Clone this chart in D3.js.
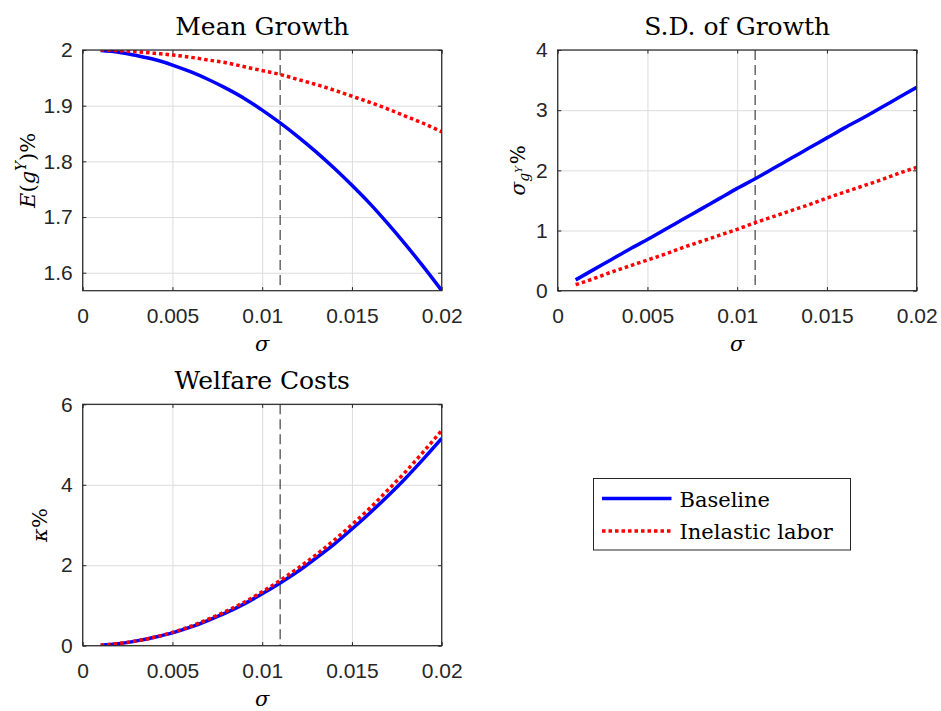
<!DOCTYPE html>
<html>
<head>
<meta charset="utf-8">
<script src="https://cdn.jsdelivr.net/npm/d3@7"></script>
<style>
  body { margin: 0; background: #fff; }
  svg { display: block; }
  .tick text { font-family: "Liberation Sans", Arial, sans-serif; font-size: 21px; fill: #262626; }
  .ttl { font-family: "DejaVu Serif", serif; font-size: 25px; fill: #000; }
  .lab { font-family: "DejaVu Serif", serif; font-size: 21px; fill: #000; }
</style>
</head>
<body>
<div id="vis"></div>
<script>
// values, sigma = 0.001 ... 0.020
const sigma = [0.001, 0.002, 0.003, 0.004, 0.005, 0.006, 0.007, 0.008, 0.009, 0.010,
               0.011, 0.012, 0.013, 0.014, 0.015, 0.016, 0.017, 0.018, 0.019, 0.020];
const meanBaseline  = [1.999, 1.996, 1.990, 1.983, 1.973, 1.961, 1.947, 1.931, 1.913, 1.892,
                       1.869, 1.844, 1.817, 1.788, 1.757, 1.724, 1.688, 1.650, 1.610, 1.568];
const meanInelastic = [2.000, 1.999, 1.997, 1.994, 1.991, 1.987, 1.982, 1.977, 1.970, 1.963,
                       1.956, 1.947, 1.938, 1.928, 1.917, 1.906, 1.894, 1.881, 1.868, 1.853];
const sdBaseline    = [0.18, 0.35, 0.52, 0.69, 0.85, 1.02, 1.19, 1.36, 1.53, 1.70,
                       1.86, 2.03, 2.20, 2.37, 2.54, 2.71, 2.87, 3.04, 3.21, 3.38];
const sdInelastic   = [0.10, 0.20, 0.31, 0.41, 0.51, 0.61, 0.72, 0.82, 0.92, 1.02,
                       1.13, 1.23, 1.33, 1.43, 1.54, 1.64, 1.74, 1.84, 1.95, 2.05];
const welfareBaseline  = [0.013, 0.05, 0.12, 0.21, 0.32, 0.46, 0.63, 0.82, 1.04, 1.29,
                          1.56, 1.85, 2.18, 2.52, 2.90, 3.30, 3.72, 4.17, 4.65, 5.15];
const welfareInelastic = [0.013, 0.054, 0.12, 0.21, 0.33, 0.48, 0.66, 0.86, 1.08, 1.34,
                          1.62, 1.93, 2.26, 2.62, 3.01, 3.42, 3.87, 4.33, 4.83, 5.35];

const sigmaStar = 0.011;
const xTicks = [0, 0.005, 0.01, 0.015, 0.02];
const meanTicks = [1.6, 1.7, 1.8, 1.9, 2];
const sdTicks = [0, 1, 2, 3, 4];
const welfareTicks = [0, 2, 4, 6];
const seriesNames = ["Baseline", "Inelastic labor"];
const seriesColors = ["#0000ff", "#ff0000"];

const W = 941, H = 711;
const svg = d3.select("#vis").append("svg").attr("width", W).attr("height", H);
svg.append("rect").attr("width", W).attr("height", H).attr("fill", "#fff");

const TICK = 3.6;
const DOTS = "3.5,3";

function drawPanel(cfg) {
  var g = svg.append("g").attr("transform", "translate(" + cfg.left + "," + cfg.top + ")");
  var w = cfg.w, h = cfg.h;
  var x = d3.scaleLinear().domain([0, 0.02]).range([0, w]);
  var y = d3.scaleLinear().domain(cfg.yDomain).range([h, 0]);

  // grid
  g.append("g").attr("class", "grid")
    .attr("transform", "translate(0," + h + ")")
    .call(d3.axisBottom(x).tickValues(xTicks).tickSize(-h).tickFormat(""))
    .call(a => a.select(".domain").remove());
  g.append("g").attr("class", "grid")
    .call(d3.axisLeft(y).tickValues(cfg.yTicks).tickSize(-w).tickFormat(""))
    .call(a => a.select(".domain").remove());
  g.selectAll(".grid line").attr("stroke", "#dcdcdc").attr("stroke-width", 1);

  // lines
  var clip = "clip" + cfg.id;
  g.append("clipPath").attr("id", clip).append("rect").attr("width", w).attr("height", h);
  var plot = g.append("g").attr("clip-path", "url(#" + clip + ")");

  plot.append("line")
    .attr("x1", x(sigmaStar)).attr("x2", x(sigmaStar))
    .attr("y1", 0).attr("y2", h)
    .attr("stroke", "#404040").attr("stroke-width", 1.2)
    .attr("stroke-dasharray", "10,5");

  var line = d3.line().x((d, i) => x(sigma[i])).y(d => y(d)).curve(d3.curveMonotoneX);
  plot.append("path").datum(cfg.base)
    .attr("d", line).attr("fill", "none")
    .attr("stroke", seriesColors[0]).attr("stroke-width", 3.5);
  plot.append("path").datum(cfg.inel)
    .attr("d", line).attr("fill", "none")
    .attr("stroke", seriesColors[1]).attr("stroke-width", 3.5)
    .attr("stroke-dasharray", DOTS);

  // axes (ticks inward, on all four sides)
  var xa = g.append("g").attr("transform", "translate(0," + h + ")")
    .call(d3.axisBottom(x).tickValues(xTicks).tickSizeInner(-TICK).tickSizeOuter(0).tickPadding(12).tickFormat(d => String(d)));
  g.append("g")
    .call(d3.axisLeft(y).tickValues(cfg.yTicks).tickSizeInner(-TICK).tickSizeOuter(0).tickPadding(10).tickFormat(d => String(d)));
  g.append("g")
    .call(d3.axisTop(x).tickValues(xTicks).tickSizeInner(-TICK).tickSizeOuter(0).tickFormat(""));
  g.append("g").attr("transform", "translate(" + w + ",0)")
    .call(d3.axisRight(y).tickValues(cfg.yTicks).tickSizeInner(-TICK).tickSizeOuter(0).tickFormat(""));
  g.selectAll(".domain").remove();
  g.selectAll(".tick line").filter(function() { return !this.closest(".grid"); })
    .attr("stroke", "#262626");
  xa.selectAll(".tick text").attr("dy", "0.95em");

  g.append("rect").attr("width", w).attr("height", h)
    .attr("fill", "none").attr("stroke", "#262626").attr("stroke-width", 1.2);

  // title
  g.append("text").attr("class", "ttl")
    .attr("x", w / 2).attr("y", -15).attr("text-anchor", "middle")
    .text(cfg.title);

  // x label
  g.append("text").attr("class", "lab")
    .attr("x", w / 2).attr("y", h + 60).attr("text-anchor", "middle")
    .attr("font-style", "italic").attr("font-size", 25).text("σ");

  // y label
  var yl = g.append("text").attr("class", "lab")
    .attr("transform", "translate(" + cfg.ylx + "," + (h / 2) + ") rotate(-90)")
    .attr("text-anchor", "middle");
  cfg.ylabel(yl);
  return g;
}

const PW = 359, PH = 240.7;

drawPanel({
  id: 1, left: 82.7, top: 50, w: PW, h: PH,
  yDomain: [1.5677, 2], yTicks: meanTicks,
  base: meanBaseline, inel: meanInelastic,
  title: "Mean Growth", ylx: -48,
  ylabel: t => {
    t.append("tspan").attr("font-style", "italic").text("E");
    t.append("tspan").text("(");
    t.append("tspan").attr("font-style", "italic").text("g");
    t.append("tspan").attr("font-style", "italic").attr("font-size", 15).attr("dy", -9).text("Y");
    t.append("tspan").attr("dy", 9).text(")%");
  }
});

drawPanel({
  id: 2, left: 557.7, top: 50, w: PW, h: PH,
  yDomain: [0, 4], yTicks: sdTicks,
  base: sdBaseline, inel: sdInelastic,
  title: "S.D. of Growth", ylx: -33,
  ylabel: t => {
    t.append("tspan").attr("font-style", "italic").attr("font-size", 20).text("σ");
    t.append("tspan").attr("font-style", "italic").attr("font-size", 14).attr("dy", 4).text("g");
    t.append("tspan").attr("font-style", "italic").attr("font-size", 10).attr("dy", -7).text("Y");
    t.append("tspan").attr("font-size", 20).attr("dx", 2).attr("dy", 3).text("%");
  }
});

drawPanel({
  id: 3, left: 82.7, top: 404.3, w: PW, h: 241.4,
  yDomain: [0, 6], yTicks: welfareTicks,
  base: welfareBaseline, inel: welfareInelastic,
  title: "Welfare Costs", ylx: -36,
  ylabel: t => {
    t.append("tspan").attr("font-style", "italic").text("κ");
    t.append("tspan").text("%");
  }
});

// legend
const lg = svg.append("g").attr("transform", "translate(593.5,478.5)");
lg.append("rect").attr("width", 257).attr("height", 71.5)
  .attr("fill", "#fff").attr("stroke", "#262626").attr("stroke-width", 1);
seriesNames.forEach((name, i) => {
  var yy = 20 + i * 32.4;
  lg.append("line").attr("x1", 8.5).attr("x2", 78).attr("y1", yy).attr("y2", yy)
    .attr("stroke", seriesColors[i]).attr("stroke-width", 3.5)
    .attr("stroke-dasharray", i === 1 ? DOTS : null);
  lg.append("text").attr("class", "lab").attr("font-size", 22)
    .attr("x", 86).attr("y", yy + 8).text(name);
});
</script>
</body>
</html>
